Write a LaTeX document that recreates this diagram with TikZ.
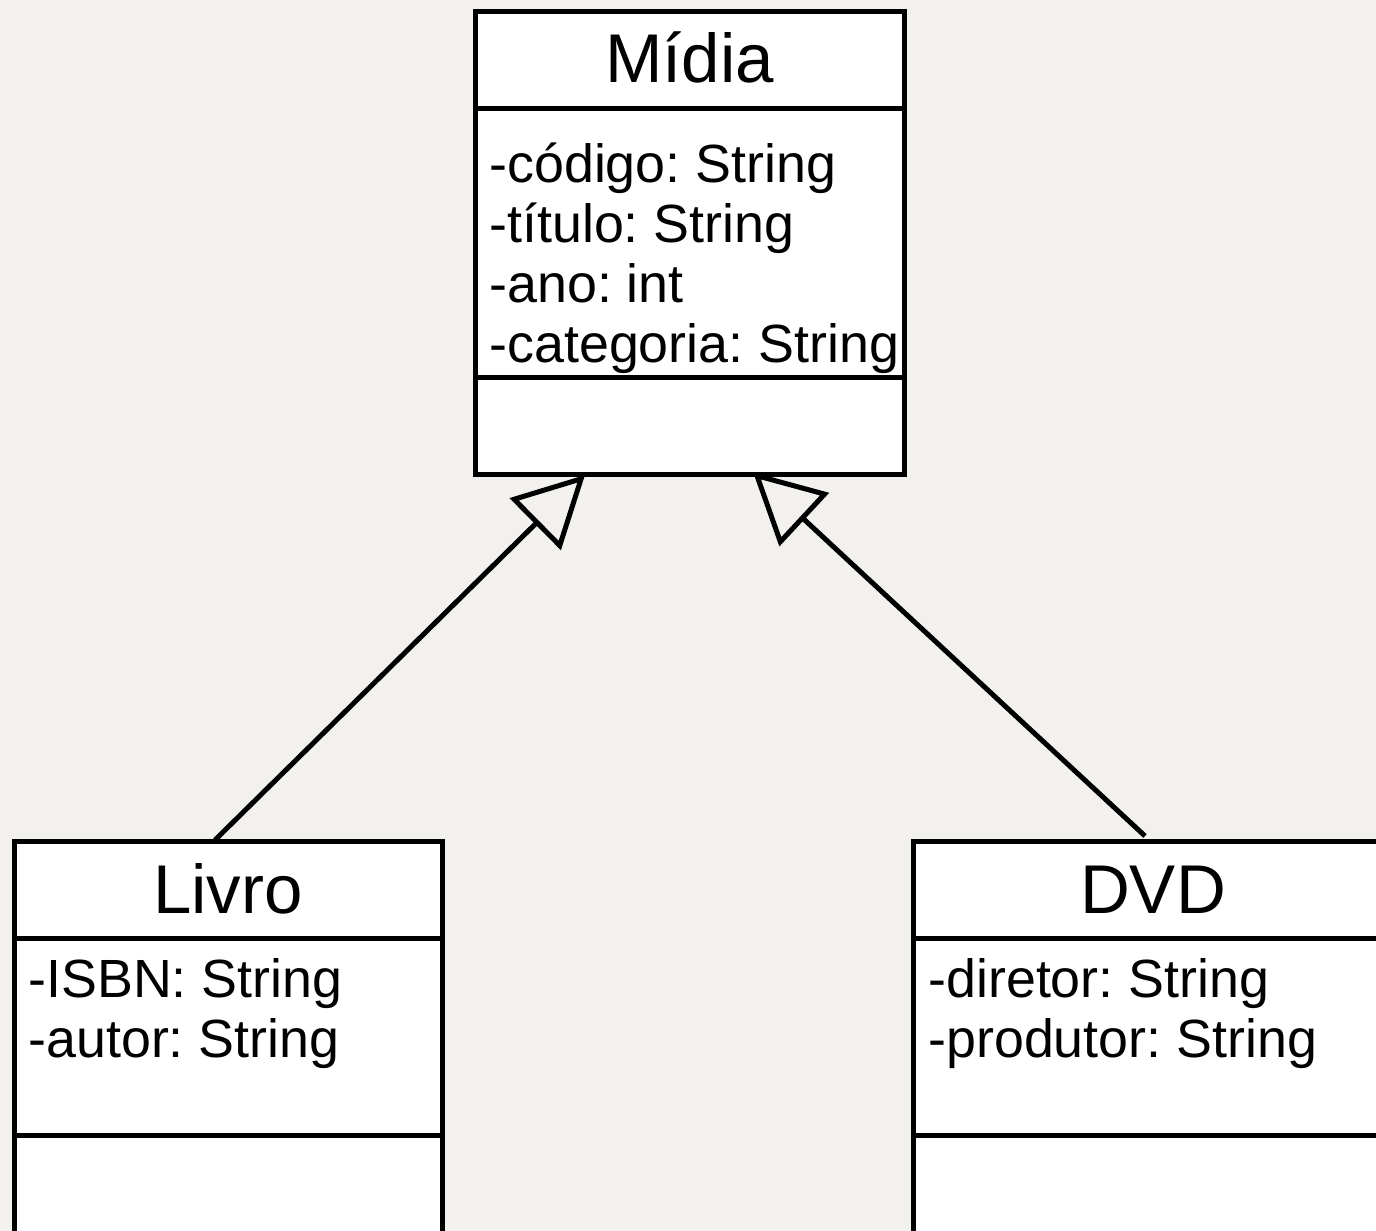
\documentclass[tikz,border=0pt]{standalone}
\usepackage{fontspec}
\setmainfont{Liberation Sans}
\frenchspacing
\usetikzlibrary{arrows.meta}
\definecolor{bgcol}{HTML}{F2F1EE}
\tikzset{
  boxline/.style={line width=2.5pt, draw=black},
  classbox/.style={boxline, fill=white, rectangle, inner sep=0pt, outer sep=0pt},
  titletext/.style={anchor=base, inner sep=0pt, font=\fontsize{34.5pt}{40pt}\selectfont},
  attrtext/.style={anchor=base west, inner sep=0pt, font=\fontsize{26.9pt}{30pt}\selectfont},
  inherit/.style={boxline, -{Triangle[open, length=35pt, width=36pt, line width=2.5pt]}}
}
\begin{document}
\begin{tikzpicture}[x=0.5pt, y=-0.5pt]
\useasboundingbox (0,0) rectangle (1376,1231);
\clip (0,0) rectangle (1376,1231);
\fill[bgcol] (0,0) rectangle (1376,1231);

% Mídia
\node[classbox, minimum width=214.5pt, minimum height=231.5pt] (midia) at (689.5,242.5) {};
\draw[boxline] (475,108) -- (904,108);
\draw[boxline] (475,377) -- (904,377);
\node[titletext] (midiaT) at (689.5,82) {Mídia};
\node[attrtext] (m1) at (489,182) {-código: String};
\node[attrtext] (m2) at (489,242) {-título: String};
\node[attrtext] (m3) at (489,302) {-ano: int};
\node[attrtext] (m4) at (489,362) {-categoria: String};

% Livro
\node[classbox, minimum width=214pt, minimum height=200pt] (livro) at (228,1041) {};
\draw[boxline] (14,938) -- (442,938);
\draw[boxline] (14,1135) -- (442,1135);
\node[titletext] (livroT) at (228,913) {Livro};
\node[attrtext] (l1) at (28,997) {-ISBN: String};
\node[attrtext] (l2) at (28,1057) {-autor: String};

% DVD
\node[classbox, minimum width=240pt, minimum height=200pt] (dvd) at (1153,1041) {};
\draw[boxline] (913,938) -- (1393,938);
\draw[boxline] (913,1135) -- (1393,1135);
\node[titletext] (dvdT) at (1153,913) {DVD};
\node[attrtext] (d1) at (928,997) {-diretor: String};
\node[attrtext] (d2) at (928,1057) {-produtor: String};

% connectors
\coordinate (livroTop) at (215,840);
\coordinate (midiaL) at (585,475);
\coordinate (dvdTop) at (1145,836);
\coordinate (midiaR) at (753,472);
\draw[inherit] (livroTop) -- (midiaL);
\draw[inherit] (dvdTop) -- (midiaR);
\end{tikzpicture}
\end{document}
